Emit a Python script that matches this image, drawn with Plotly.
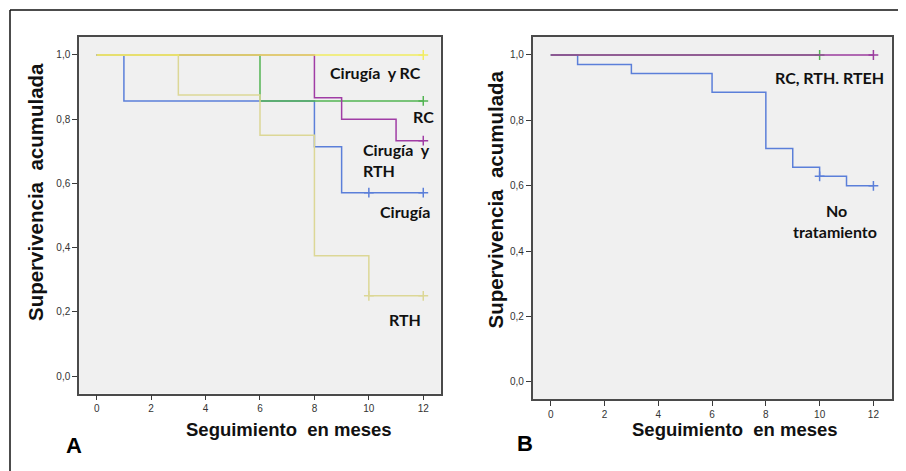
import plotly.graph_objects as go

# page body has an 8px margin; compensate so that the picture lands at 906x471
OFF = 8
W, H = 906 - OFF, 471 - OFF

# ---------------- Panel A data ----------------
groups_a = ["Cirugía", "RC", "Cirugía y RTH", "RTH", "Cirugía y RC"]
time_a = {
    "Cirugía": [0, 1, 8, 9, 12],
    "RC": [0, 6, 12],
    "Cirugía y RTH": [0, 8, 9, 11, 12],
    "RTH": [0, 3, 6, 8, 10, 12],
    "Cirugía y RC": [0, 12],
}
surv_a = {
    "Cirugía": [1.0, 0.857, 0.714, 0.571, 0.571],
    "RC": [1.0, 0.857, 0.857],
    "Cirugía y RTH": [1.0, 0.867, 0.800, 0.733, 0.733],
    "RTH": [1.0, 0.875, 0.750, 0.375, 0.250, 0.250],
    "Cirugía y RC": [1.0, 1.0],
}
censor_a = {
    "Cirugía": [10, 12],
    "RC": [12],
    "Cirugía y RTH": [12],
    "RTH": [10, 12],
    "Cirugía y RC": [12],
}

# ---------------- Panel B data ----------------
groups_b = ["No tratamiento", "RC", "RTH. RTEH"]
time_b = {
    "No tratamiento": [0, 1, 3, 6, 8, 9, 10, 11, 12],
    "RC": [0, 10],
    "RTH. RTEH": [0, 12],
}
surv_b = {
    "No tratamiento": [1.0, 0.971, 0.943, 0.886, 0.714, 0.657, 0.629, 0.600, 0.600],
    "RC": [1.0, 1.0],
    "RTH. RTEH": [1.0, 1.0],
}
censor_b = {
    "No tratamiento": [10, 12],
    "RC": [10],
    "RTH. RTEH": [12],
}

x_ticks = [0, 2, 4, 6, 8, 10, 12]
y_ticks = [0.0, 0.2, 0.4, 0.6, 0.8, 1.0]

colors = {
    "Cirugía": "#5b7fd9",
    "RC": "#52b452",
    "Cirugía y RTH": "#a03ca5",
    "RTH": "#dcd796",
    "Cirugía y RC": "#f1ec62",
    "No tratamiento": "#5b7fd9",
    "RTH. RTEH": "#9b3d9e",
}


def step_value(times, surv, t):
    v = surv[0]
    for ti, si in zip(times, surv):
        if ti <= t:
            v = si
    return v


fig = go.Figure()


def add_group(name, times, surv, cens, xa, ya):
    c = colors[name]
    fig.add_trace(go.Scatter(
        x=times, y=surv, mode="lines", line=dict(color=c, width=1.5, shape="hv"),
        xaxis=xa, yaxis=ya, showlegend=False, hoverinfo="skip"))
    fig.add_trace(go.Scatter(
        x=cens, y=[step_value(times, surv, t) for t in cens], mode="markers",
        marker=dict(symbol="cross-thin", size=7, line=dict(color=c, width=1.5)),
        xaxis=xa, yaxis=ya, showlegend=False, hoverinfo="skip"))


for g in groups_a:
    add_group(g, time_a[g], surv_a[g], censor_a[g], "x", "y")
for g in groups_b:
    add_group(g, time_b[g], surv_b[g], censor_b[g], "x2", "y2")


def px(xp):
    return (xp - OFF) / W


def py(yp):
    return 1 - (yp - OFF) / H


axis_common = dict(
    showgrid=False, zeroline=False, showline=True, mirror=True,
    linecolor="#4a4a4a", linewidth=1.5, ticks="outside", ticklen=5,
    tickcolor="#3a3a3a", tickwidth=1.4,
    tickfont=dict(family="Liberation Sans", size=10, color="#333333"),
)

fig.update_layout(
    width=W, height=H,
    margin=dict(l=0, r=0, t=0, b=0),
    paper_bgcolor="white",
    plot_bgcolor="#f0f0f0",
    separators=",.",
    xaxis=dict(domain=[px(79), px(440.7)], range=[-0.65, 12.64], tickvals=x_ticks,
               anchor="y", **axis_common),
    yaxis=dict(domain=[py(393.7), py(37)], range=[-0.055, 1.056], tickvals=y_ticks,
               tickformat=".1f", anchor="x", **axis_common),
    xaxis2=dict(domain=[px(532.7), px(891.7)], range=[-0.67, 12.68], tickvals=x_ticks,
                anchor="y2", **axis_common),
    yaxis2=dict(domain=[py(399.3), py(37)], range=[-0.053, 1.055], tickvals=y_ticks,
                tickformat=".1f", anchor="x2", **axis_common),
)

lbl_font = dict(family="Lato", size=16, color="#111111")
xtitle_font = dict(family="Liberation Sans", size=18.5, color="#111111")
ytitle_font = dict(family="Liberation Sans", size=20.5, color="#111111")

ann = []


def add_text(text, xpx, ypx, font, angle=0, anchor="center"):
    ann.append(dict(text=text, x=px(xpx), y=py(ypx), xref="paper", yref="paper",
                    xanchor=anchor, yanchor="middle", showarrow=False, font=font,
                    textangle=angle))


add_text("<b>Cirugía  y RC</b>", 375.5, 72, lbl_font)
add_text("<b>RC</b>", 423.5, 117, lbl_font)
add_text("<b>Cirugía  y</b>", 361, 149, lbl_font, anchor="left")
add_text("<b>RTH</b>", 361, 170, lbl_font, anchor="left")
add_text("<b>Cirugía</b>", 405, 212, lbl_font)
add_text("<b>RTH</b>", 405, 319, lbl_font)
add_text("<b>RC, RTH. RTEH</b>", 829.5, 77, lbl_font)
add_text("<b>No</b>", 836, 210, lbl_font)
add_text("<b>tratamiento</b>", 835, 231, lbl_font)

add_text("<b>Seguimiento  en meses</b>", 288.5, 429, xtitle_font)
add_text("<b>Seguimiento  en meses</b>", 734.5, 429, xtitle_font)
add_text("<b>Supervivencia  acumulada</b>", 35, 192, ytitle_font, angle=-90)
add_text("<b>Supervivencia  acumulada</b>", 495, 199.5, ytitle_font, angle=-90)

add_text("<b>A</b>", 73.5, 445, dict(family="Liberation Sans", size=22, color="#000000"))
add_text("<b>B</b>", 525, 443, dict(family="Liberation Sans", size=22, color="#000000"))

fig.update_layout(annotations=ann)

# outer frame (left and top edges visible)
fig.add_shape(type="line", xref="paper", yref="paper", x0=px(10), x1=px(10),
              y0=py(10), y1=0, line=dict(color="#111111", width=1.5))
fig.add_shape(type="line", xref="paper", yref="paper", x0=px(10), x1=1,
              y0=py(10), y1=py(10), line=dict(color="#111111", width=1.5))

fig.write_html("out.html")
